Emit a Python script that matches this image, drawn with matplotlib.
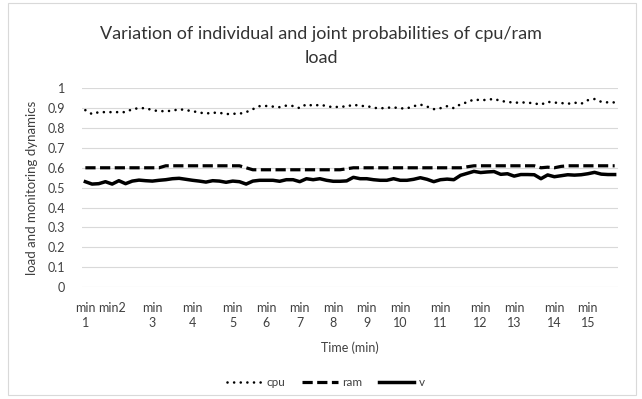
import numpy as np
import matplotlib
matplotlib.use("Agg")
import matplotlib.pyplot as plt
from matplotlib.patches import Rectangle

plt.rcParams['font.family'] = ['Lato', 'DejaVu Sans']

# samples recorded in each minute and the minute labels on the category axis
minute_labels = ["min\n1", "min2", "min\n3", "min\n4", "min\n5", "min\n6", "min\n7", "min\n8",
                 "min\n9", "min\n10", "min\n11", "min\n12", "min\n13", "min\n14", "min\n15"]
samples_per_min = [4, 6, 6, 6, 5, 5, 5, 5, 5, 6, 6, 5, 6, 5, 5]

cpu = [0.89, 0.87, 0.88, 0.88, 0.88, 0.88, 0.88, 0.895, 0.90, 0.90,
       0.89, 0.885, 0.885, 0.887, 0.895, 0.89, 0.885, 0.878, 0.873, 0.877,
       0.877, 0.87, 0.872, 0.872, 0.88, 0.895, 0.91, 0.911, 0.908, 0.905,
       0.913, 0.911, 0.90, 0.92, 0.912, 0.917, 0.911, 0.904, 0.908, 0.908,
       0.918, 0.911, 0.911, 0.902, 0.899, 0.902, 0.904, 0.899, 0.899, 0.91,
       0.918, 0.908, 0.895, 0.90, 0.91, 0.90, 0.92, 0.93, 0.944, 0.94,
       0.942, 0.947, 0.936, 0.932, 0.927, 0.929, 0.928, 0.924, 0.918, 0.932,
       0.928, 0.926, 0.922, 0.928, 0.922, 0.94, 0.946, 0.932, 0.929, 0.929]

ram = [0.60] * 12 + [0.61] * 12 + [0.60] + [0.59] * 14 + [0.595] + [0.60] * 17 + \
      [0.605] + [0.61] * 10 + [0.60, 0.603, 0.60, 0.607] + [0.61] * 8

v = [0.53, 0.518, 0.52, 0.53, 0.518, 0.535, 0.52, 0.533, 0.538, 0.535,
     0.533, 0.537, 0.54, 0.545, 0.547, 0.542, 0.537, 0.533, 0.528, 0.535,
     0.533, 0.527, 0.533, 0.53, 0.518, 0.533, 0.537, 0.537, 0.537, 0.532,
     0.54, 0.54, 0.53, 0.545, 0.54, 0.545, 0.537, 0.532, 0.532, 0.534,
     0.552, 0.545, 0.545, 0.54, 0.537, 0.537, 0.545, 0.537, 0.537, 0.542,
     0.55, 0.542, 0.53, 0.54, 0.543, 0.54, 0.562, 0.572, 0.582, 0.576,
     0.579, 0.581, 0.567, 0.57, 0.558, 0.566, 0.566, 0.565, 0.545, 0.564,
     0.555, 0.56, 0.565, 0.563, 0.565, 0.57, 0.577, 0.568, 0.566, 0.566]

n = sum(samples_per_min)
x = np.arange(n)
tick_pos = np.concatenate([[0], np.cumsum(samples_per_min)[:-1]])

fig = plt.figure(figsize=(6.42, 3.99), dpi=100)
ax = fig.add_axes([82 / 642, 1 - 287 / 399, 536 / 642, (287 - 88.3) / 399])

# chart area border
fig.patches.append(Rectangle((8 / 642, 4 / 399), 628 / 642, 392 / 399, transform=fig.transFigure,
                             fill=False, edgecolor='#d9d9d9', linewidth=0.8))

ax.plot(x, cpu, color='black', lw=1.9, linestyle=(0, (0.01, 2.5)),
        dash_capstyle='round', solid_capstyle='round', label='cpu')
ax.plot(x, ram, color='black', lw=2.3, linestyle=(0, (3.2, 1.4)), label='ram')
ax.plot(x, v, color='black', lw=2.5, solid_joinstyle='round', label='v')

ax.set_xlim(-0.5, n - 0.5)
ax.set_ylim(0, 1)
ax.set_yticks(np.arange(0, 1.01, 0.1))
ax.set_yticklabels(['0'] + [f'{t:.1f}' for t in np.arange(0.1, 0.95, 0.1)] + ['1'])
ax.set_xticks(tick_pos)
ax.set_xticklabels(minute_labels, linespacing=1.25)
ax.tick_params(length=0, labelsize=9, labelcolor='#404040')
ax.tick_params(axis='y', pad=12)
ax.tick_params(axis='x', pad=11)
ax.grid(axis='y', color='#d9d9d9', lw=0.8)
ax.set_axisbelow(True)
for s in ax.spines.values():
    s.set_visible(False)

ax.set_ylabel('load and monitoring dynamics', fontsize=9.5, color='#404040', labelpad=7)
ax.set_xlabel('Time (min)', fontsize=9, color='#404040', labelpad=9)

fig.text(0.5, 1 - 46 / 399, 'Variation of individual and joint probabilities of cpu/ram\nload',
         ha='center', va='center', fontsize=13, color='#333333', linespacing=1.65)

fig.legend(loc='center', bbox_to_anchor=(326 / 642, 1 - 383 / 399), ncol=3, frameon=False,
           fontsize=8.5, handlelength=3.0, columnspacing=1.4, handletextpad=0.4, labelcolor='#404040')

fig.savefig('out.png', dpi=100)
